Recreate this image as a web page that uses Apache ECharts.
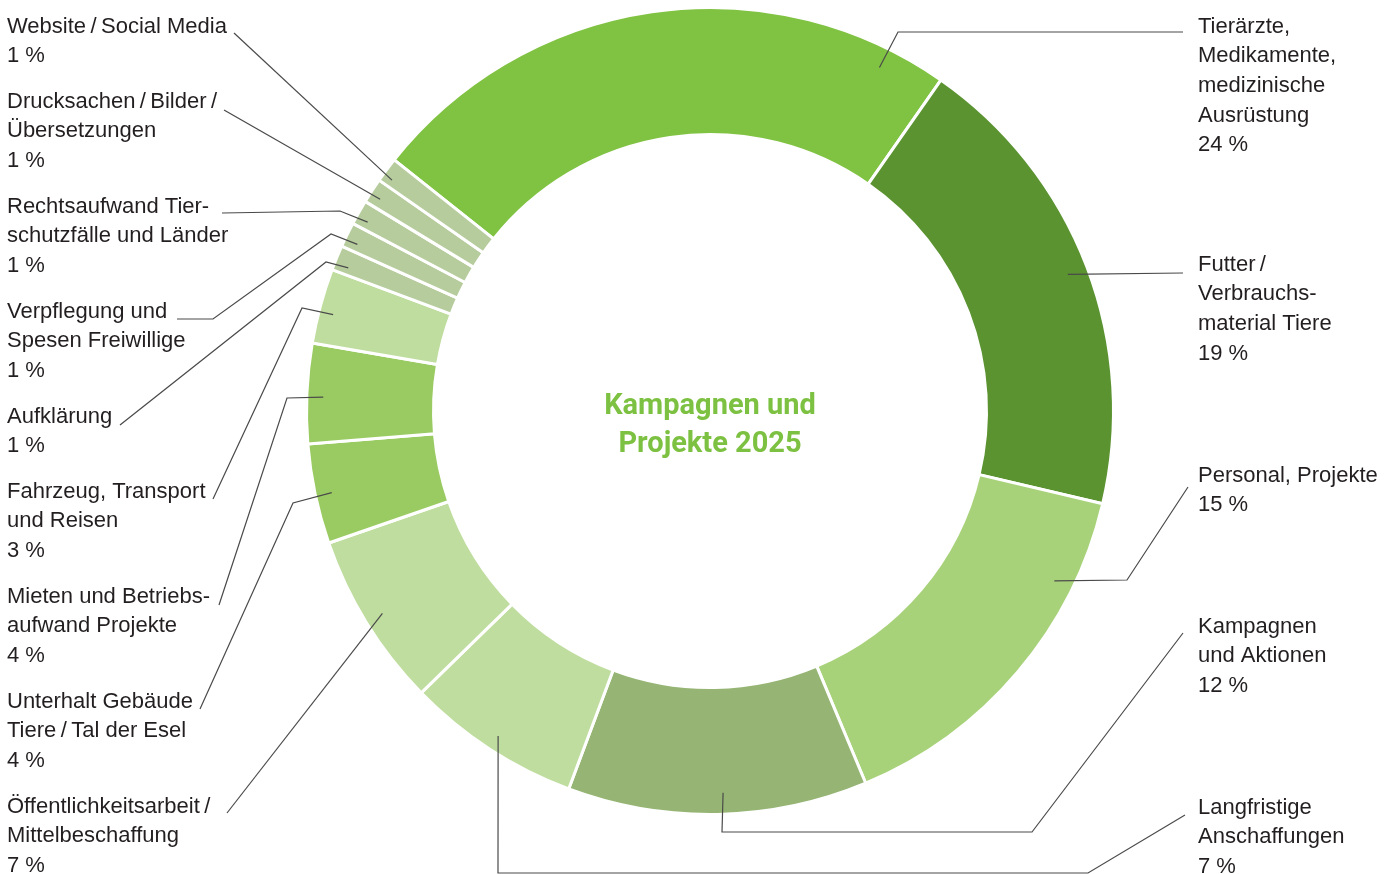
<!DOCTYPE html>
<html>
<head>
<meta charset="utf-8">
<script src="https://cdn.jsdelivr.net/npm/echarts@6/dist/echarts.min.js"></script>
<style>
    html, body {margin: 0; padding: 0; background: #fff;}
    #main {width: 1397px; height: 874px;}
</style>
</head>
<body>
<div id="main"></div>
<script>
// Daten: Anteile in %, im Uhrzeigersinn ab "Tierärzte"
var categories = [
    'Tierärzte,\nMedikamente,\nmedizinische\nAusrüstung',
    'Futter\u2009/\nVerbrauchs-\nmaterial Tiere',
    'Personal, Projekte',
    'Kampagnen\nund Aktionen',
    'Langfristige\nAnschaffungen',
    'Öffentlichkeitsarbeit\u2009/\nMittelbeschaffung',
    'Unterhalt Gebäude\nTiere\u2009/\u2009Tal der Esel',
    'Mieten und Betriebs-\naufwand Projekte',
    'Fahrzeug, Transport\nund Reisen',
    'Aufklärung',
    'Verpflegung und\nSpesen Freiwillige',
    'Rechtsaufwand Tier-\nschutzfälle und Länder',
    'Drucksachen\u2009/\u2009Bilder\u2009/\nÜbersetzungen',
    'Website\u2009/\u2009Social Media'
];
var shares = [24, 19, 15, 12, 7, 7, 4, 4, 3, 1, 1, 1, 1, 1];

var colors = ['#80c242', '#5b9331', '#a8d27a', '#96b574', '#bfdd9e', '#bfdd9e', '#9acb62',
              '#9acb62', '#bfdd9e', '#b6cc9d', '#b6cc9d', '#b6cc9d', '#b6cc9d', '#b6cc9d'];

// Beschriftung: Position (links oben), Lage des Linienanfangs im Segment, Knickpunkte
var labelPos = [
    {x: 1198, y: 12,  f: 0.9,  r: 383, pts: [[898, 32], [1183, 32]]},
    {x: 1198, y: 250, f: 0.5,  r: 383, pts: [[1183, 273]]},
    {x: 1198, y: 461, f: 0.24, r: 384, pts: [[1127, 580], [1188, 487]]},
    {x: 1198, y: 612, f: 0.48, r: 382, pts: [[722, 832], [1032, 832], [1183, 633]]},
    {x: 1198, y: 793, f: 0.5,  r: 388, pts: [[498, 873], [1088, 873], [1185, 815]]},
    {x: 7,    y: 792, f: 0.5,  r: 385, pts: [[227, 813]]},
    {x: 7,    y: 687, f: 0.48, r: 387, pts: [[293, 503], [200, 709]]},
    {x: 7,    y: 582, f: 0.47, r: 387, pts: [[287, 398], [219, 605]]},
    {x: 7,    y: 477, f: 0.43, r: 389, pts: [[302, 308], [213, 499]]},
    {x: 7,    y: 402, f: 0.3,  r: 389, pts: [[326, 262], [120, 425]]},
    {x: 7,    y: 297, f: 0.33, r: 390, pts: [[331, 234], [213, 319], [177, 319]]},
    {x: 7,    y: 192, f: 0.33, r: 391, pts: [[340, 211], [222, 213]]},
    {x: 7,    y: 87,  f: 0.39, r: 392, pts: [[224, 110]]},
    {x: 7,    y: 12,  f: 0.3,  r: 393, pts: [[234, 33]]}
];

var cx = 710, cy = 411;
var startAngle = 141.5;
var total = shares.reduce(function(a, b){ return a + b; }, 0);

// Startpunkt der Linie innerhalb des Rings
function line_start(idx){
    var cum = 0;
    for (var i = 0; i < idx; i++) cum += shares[i];
    var a = (90 - startAngle) + (cum + labelPos[idx].f * shares[idx]) / total * 360;
    var rad = a * Math.PI / 180;
    var r = labelPos[idx].r;
    return [cx + r * Math.sin(rad), cy - r * Math.cos(rad)];
}

var myChart = echarts.init(document.getElementById('main'));

var ringData = [], labelData = [];
for (var i = 0; i < categories.length; i++) {
    ringData.push({name: categories[i], value: shares[i], itemStyle: {color: colors[i]}});
    labelData.push({name: categories[i], value: shares[i]});
}

var option = {
    animation: false,
    backgroundColor: '#fff',
    graphic: [{
        type: 'text',
        x: cx,
        y: 426,
        style: {
            text: 'Kampagnen und\nProjekte 2025',
            fill: '#7dc142',
            font: 'bold 29px Roboto',
            lineHeight: 38,
            align: 'center',
            verticalAlign: 'middle'
        }
    }],
    series: [{
        // Ring
        type: 'pie',
        center: [cx, cy],
        radius: [276.5, 403.5],
        startAngle: startAngle,
        clockwise: true,
        silent: true,
        z: 2,
        itemStyle: {
            borderColor: '#fff',
            borderWidth: 3
        },
        emphasis: {scale: false},
        label: {show: false},
        labelLine: {show: false},
        data: ringData
    }, {
        // transparenter Ring nur für Beschriftung, damit Linien über den Segmenten liegen
        type: 'pie',
        center: [cx, cy],
        radius: [276.5, 403.5],
        startAngle: startAngle,
        clockwise: true,
        avoidLabelOverlap: false,
        silent: true,
        z: 5,
        itemStyle: {color: 'rgba(0,0,0,0)', borderWidth: 0},
        emphasis: {scale: false},
        label: {
            show: true,
            position: 'outside',
            color: '#231f20',
            fontFamily: 'Liberation Sans',
            fontSize: 22,
            lineHeight: 29.6,
            formatter: function(params){
                return params.name + '\n' + params.value + ' %';
            }
        },
        labelLine: {
            show: true,
            lineStyle: {color: '#4a4a4a', width: 1.2}
        },
        labelLayout: function(params){
            var p = labelPos[params.dataIndex];
            var pts = [line_start(params.dataIndex)].concat(p.pts);
            return {
                x: p.x,
                y: p.y,
                align: 'left',
                verticalAlign: 'top',
                labelLinePoints: pts
            };
        },
        data: labelData
    }]
};

myChart.setOption(option);
</script>
</body>
</html>
